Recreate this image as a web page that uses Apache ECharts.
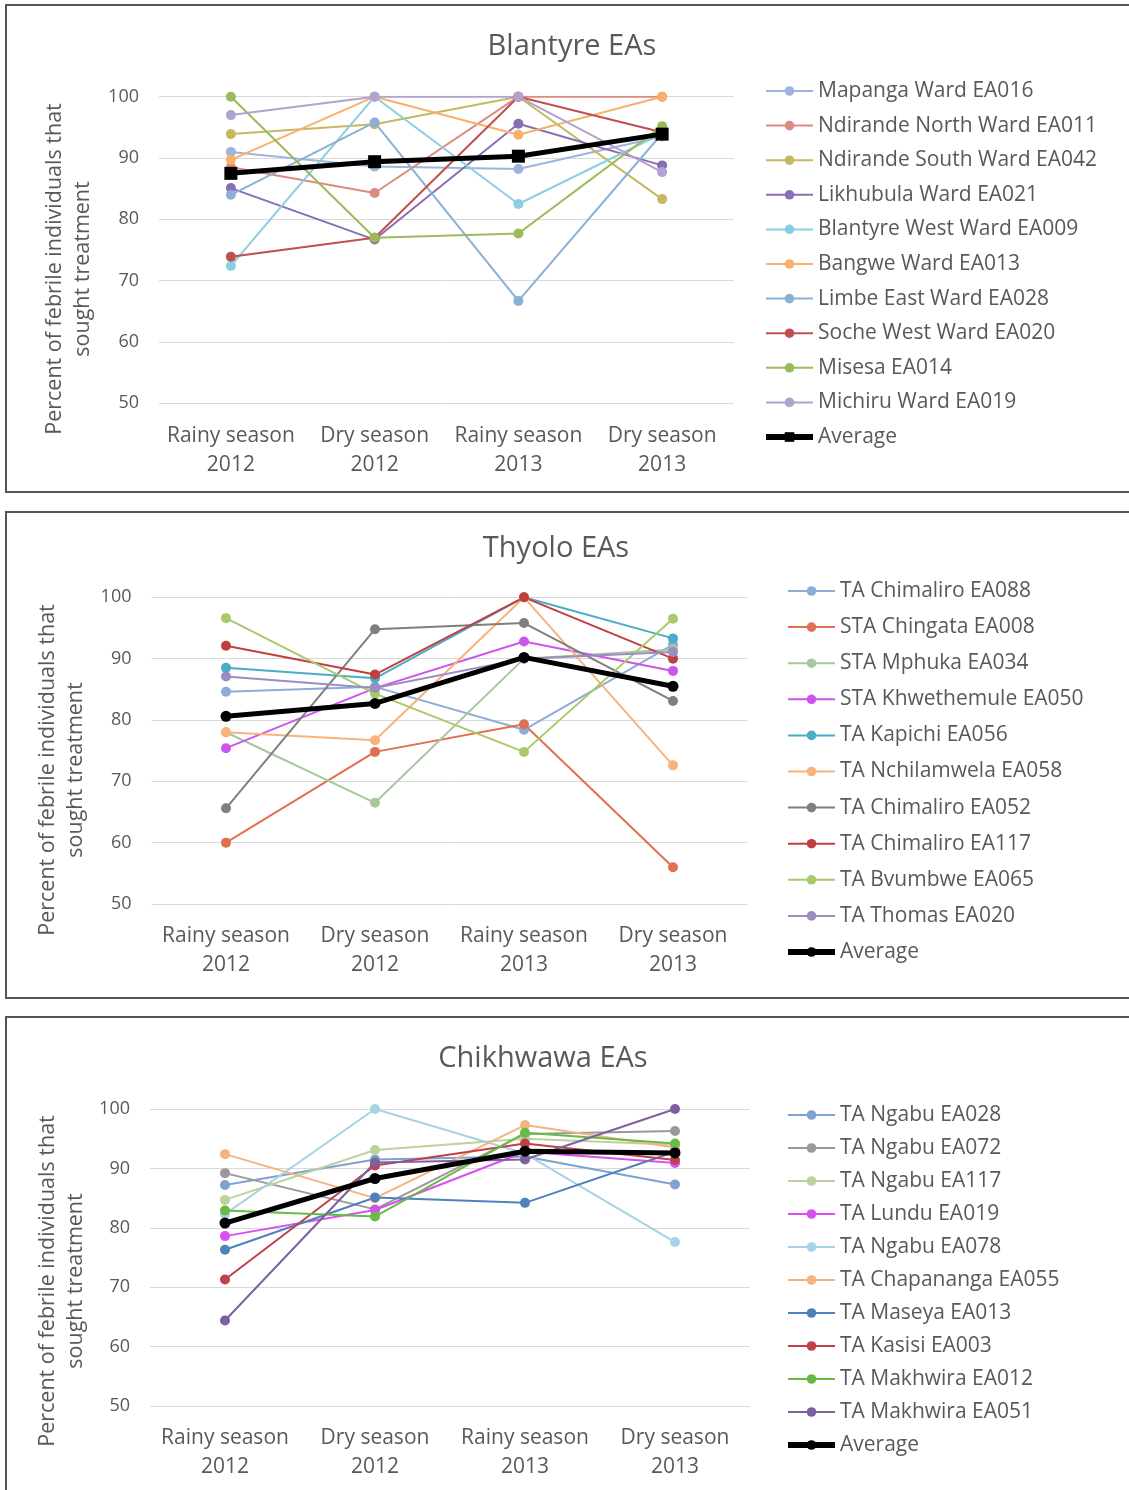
<!DOCTYPE html>
<html><head><meta charset="utf-8">
<script src="https://cdn.jsdelivr.net/npm/echarts@6/dist/echarts.min.js"></script>
<style>
html,body{margin:0;padding:0;background:#fff;width:1129px;height:1490px;overflow:hidden;position:relative;}
.panel{position:absolute;border:2px solid #555;box-sizing:border-box;}
.chart{position:absolute;left:0;width:1129px;}
</style></head><body>
<div class="panel" style="left:5px;top:4px;width:1140px;height:489px"></div>
<div class="panel" style="left:5px;top:511px;width:1140px;height:488px"></div>
<div class="panel" style="left:5px;top:1016px;width:1140px;height:600px"></div>
<div id="c1" class="chart" style="top:0px;height:495px"></div>
<div id="c2" class="chart" style="top:500px;height:500px"></div>
<div id="c3" class="chart" style="top:1005px;height:485px"></div>
<script>
// ---------- DATA ----------
const categories = ['Rainy season\n2012', 'Dry season\n2012', 'Rainy season\n2013', 'Dry season\n2013'];
const yTicks = [50, 60, 70, 80, 90, 100];

const blantyreEAs = ['Mapanga Ward EA016', 'Ndirande North Ward EA011', 'Ndirande South Ward EA042', 'Likhubula Ward EA021', 'Blantyre West Ward EA009', 'Bangwe Ward EA013', 'Limbe East Ward EA028', 'Soche West Ward EA020', 'Misesa EA014', 'Michiru Ward EA019'];
const blantyreValues = [
  [91.0, 88.6, 88.2, 93.5],
  [88.5, 84.3, 100, 100],
  [93.9, 95.5, 100, 83.3],
  [85.1, 76.7, 95.6, 88.8],
  [72.4, 100, 82.5, 94.0],
  [89.7, 100, 93.8, 100],
  [84.0, 95.8, 66.7, 94.0],
  [73.9, 77.0, 100, 94.2],
  [100, 77.0, 77.7, 95.2],
  [97.0, 100, 100, 87.7]
];
const blantyreAverage = [87.5, 89.4, 90.3, 93.9];

const thyoloEAs = ['TA Chimaliro EA088', 'STA Chingata EA008', 'STA Mphuka EA034', 'STA Khwethemule EA050', 'TA Kapichi EA056', 'TA Nchilamwela EA058', 'TA Chimaliro EA052', 'TA Chimaliro EA117', 'TA Bvumbwe EA065', 'TA Thomas EA020'];
const thyoloValues = [
  [84.6, 85.4, 78.4, 92.3],
  [60.0, 74.8, 79.3, 56.0],
  [78.0, 66.5, 90.0, 91.5],
  [75.4, 85.2, 92.8, 88.0],
  [88.5, 86.8, 100, 93.3],
  [78.0, 76.7, 100, 72.6],
  [65.6, 94.8, 95.8, 83.1],
  [92.1, 87.4, 100, 90.0],
  [96.6, 84.3, 74.8, 96.5],
  [87.1, 85.2, 90.0, 91.1]
];
const thyoloAverage = [80.6, 82.7, 90.2, 85.5];

const chikhwawaEAs = ['TA Ngabu EA028', 'TA Ngabu EA072', 'TA Ngabu EA117', 'TA Lundu EA019', 'TA Ngabu EA078', 'TA Chapananga EA055', 'TA Maseya EA013', 'TA Kasisi EA003', 'TA Makhwira EA012', 'TA Makhwira EA051'];
const chikhwawaValues = [
  [87.2, 91.5, 92.0, 87.3],
  [89.2, 83.1, 95.8, 96.3],
  [84.7, 93.1, 95.0, 94.0],
  [78.6, 83.0, 92.8, 90.9],
  [82.3, 100, 92.5, 77.6],
  [92.4, 85.0, 97.3, 93.5],
  [76.3, 85.1, 84.2, 92.8],
  [71.3, 90.5, 94.2, 91.4],
  [82.9, 81.9, 96.0, 94.2],
  [64.4, 91.0, 91.5, 100]
];
const chikhwawaAverage = [80.8, 88.3, 92.9, 92.6];

// ---------- STYLE ----------
const blantyreColors = ['#9db3e0', '#dc8a84', '#c9b660', '#8a6db2', '#8acfe0', '#f8b06a', '#8bb0d6', '#c0504d', '#9bbb59', '#b2a2d0'];
const thyoloColors = ['#8eacd8', '#e0704f', '#a6c89c', '#cc55ee', '#4bacc6', '#f8b27a', '#7f7f7f', '#c0403d', '#a9c96a', '#9c8cc0'];
const chikhwawaColors = ['#7fa2d0', '#999999', '#bdd29a', '#d94ff0', '#a6d3e3', '#f5b380', '#4f81bd', '#c0404a', '#66bb44', '#7f609f'];

const TXT = '#595959';
const FONT = 'Open Sans';

function build(el, cfg) {
  const chart = echarts.init(document.getElementById(el), null, {renderer: 'canvas'});
  const series = cfg.names.map((n, i) => ({
    name: n, type: 'line', data: cfg.values[i],
    symbol: 'circle', symbolSize: 10,
    lineStyle: {width: 2, color: cfg.colors[i]},
    itemStyle: {color: cfg.colors[i], borderWidth: 0},
    emphasis: {disabled: true}
  }));
  series.push({
    name: 'Average', type: 'line', data: cfg.avg,
    symbol: cfg.avgSymbol, symbolSize: cfg.avgSymbol === 'rect' ? 13 : 11,
    lineStyle: {width: 5, color: '#000'},
    itemStyle: {color: '#000'}, z: 5,
    emphasis: {disabled: true}
  });
  const legendData = cfg.names.map(n => ({name: n}));
  legendData.push({name: 'Average', lineStyle: {width: 6, color: '#000'}, itemStyle: {color: '#000'}});
  chart.setOption({
    animation: false,
    textStyle: {fontFamily: FONT},
    graphic: [
      {type: 'text', x: cfg.titleX, y: cfg.titleY,
       style: {text: cfg.title, align: 'center', verticalAlign: 'middle', fill: TXT, font: '29px "Open Sans"'}},
      {type: 'text', x: cfg.ytX, y: cfg.ytY, rotation: Math.PI / 2,
       style: {text: 'Percent of febrile individuals that\nsought treatment', align: 'center', verticalAlign: 'middle',
               fill: TXT, font: '21.5px "Open Sans"', lineHeight: 28}}
    ],
    grid: {left: cfg.gl, top: cfg.gt, width: cfg.gw, height: cfg.gh},
    legend: {
      orient: 'vertical', left: cfg.lgX, top: cfg.lgY, padding: 0,
      itemWidth: 47, itemHeight: 12, itemGap: cfg.lgGap,
      textStyle: {fontSize: 21, color: TXT, fontFamily: FONT, lineHeight: 22},
      data: legendData
    },
    xAxis: {
      type: 'category', data: categories, boundaryGap: true,
      axisLine: {show: false}, axisTick: {show: false},
      axisLabel: {fontSize: 21, color: TXT, lineHeight: 29, margin: 18, fontFamily: FONT, interval: 0}
    },
    yAxis: {
      type: 'value', min: yTicks[0], max: yTicks[yTicks.length - 1], interval: 10,
      axisLine: {show: false}, axisTick: {show: false},
      axisLabel: {fontSize: 18, color: TXT, margin: 20, fontFamily: FONT},
      splitLine: {lineStyle: {color: '#d9d9d9', width: 1}}
    },
    series: series
  });
}

build('c1', {names: blantyreEAs, values: blantyreValues, avg: blantyreAverage, colors: blantyreColors, avgSymbol: 'rect',
  title: 'Blantyre EAs', titleX: 572, titleY: 47, ytX: 69, ytY: 269,
  gl: 159, gt: 96.7, gw: 575, gh: 306.6, lgX: 763, lgY: 80, lgGap: 12.6});
build('c2', {names: thyoloEAs, values: thyoloValues, avg: thyoloAverage, colors: thyoloColors, avgSymbol: 'circle',
  title: 'Thyolo EAs', titleX: 556, titleY: 49, ytX: 62, ytY: 270,
  gl: 151.5, gt: 97.3, gw: 596, gh: 306.7, lgX: 785, lgY: 80, lgGap: 14.1});
build('c3', {names: chikhwawaEAs, values: chikhwawaValues, avg: chikhwawaAverage, colors: chikhwawaColors, avgSymbol: 'circle',
  title: 'Chikhwawa EAs', titleX: 543, titleY: 54, ytX: 62, ytY: 276,
  gl: 150, gt: 104, gw: 600, gh: 297, lgX: 785, lgY: 99, lgGap: 11});
</script>
</body></html>
